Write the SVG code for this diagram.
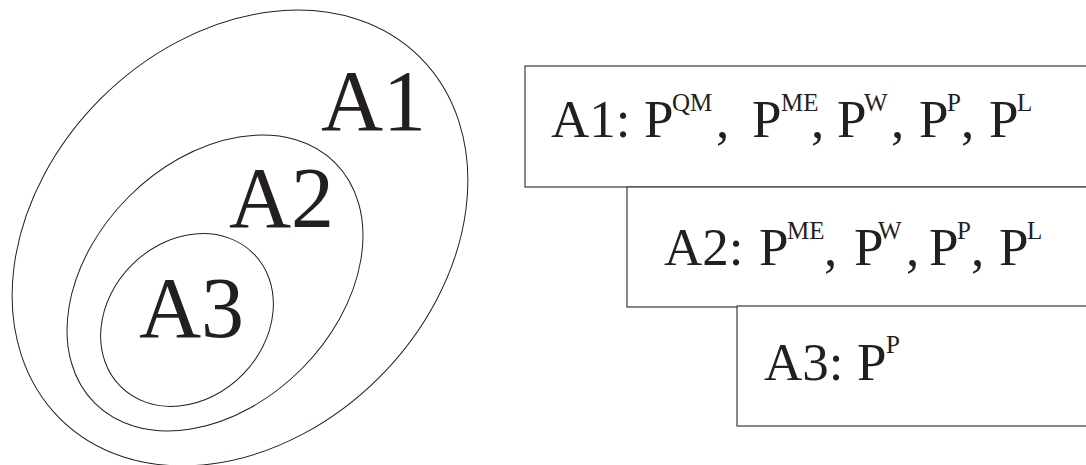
<svg xmlns="http://www.w3.org/2000/svg" width="1086" height="465" viewBox="0 0 1086 465">
<style>
.shape{fill:none;stroke:#231f20;stroke-width:1}
.box{fill:#fff;stroke:#3a3a3a;stroke-width:1.2}
.big{font-family:"Liberation Serif","Times New Roman",serif;font-size:86px;fill:#231f20}
.lbl{font-family:"Liberation Serif","Times New Roman",serif;font-size:53px;fill:#231f20}
.sup{font-size:25px}
</style>
<rect width="1086" height="465" fill="#fff"/>
<g id="set-A1">
<ellipse class="shape" cx="240" cy="238" rx="255" ry="197" transform="rotate(-45 240 238)"/>
<text class="big" x="321" y="130">A1</text>
</g>
<g id="set-A2">
<ellipse class="shape" cx="215" cy="283" rx="170" ry="122" transform="rotate(-45 215 283)"/>
<text class="big" x="229" y="227">A2</text>
</g>
<g id="set-A3">
<ellipse class="shape" cx="187" cy="320" rx="94" ry="78" transform="rotate(-45 187 320)"/>
<text class="big" x="139" y="337">A3</text>
</g>
<g id="box-A1">
<rect class="box" x="525" y="66" width="580" height="121"/>
<text class="lbl" y="137"><tspan x="551">A1:</tspan><tspan x="644">P</tspan><tspan class="sup" x="672" y="111">QM</tspan><tspan x="716" y="137">,</tspan><tspan x="752">P</tspan><tspan class="sup" x="781" y="111">ME</tspan><tspan x="811" y="137">,</tspan><tspan x="837">P</tspan><tspan class="sup" x="864" y="111">W</tspan><tspan x="891" y="137">,</tspan><tspan x="919">P</tspan><tspan class="sup" x="947" y="111">P</tspan><tspan x="961" y="137">,</tspan><tspan x="989">P</tspan><tspan class="sup" x="1017" y="111">L</tspan></text>
</g>
<g id="box-A2">
<rect class="box" x="627" y="187" width="480" height="120"/>
<text class="lbl" y="265"><tspan x="664">A2:</tspan><tspan x="759">P</tspan><tspan class="sup" x="787" y="239">ME</tspan><tspan x="824" y="265">,</tspan><tspan x="854">P</tspan><tspan class="sup" x="878" y="239">W</tspan><tspan x="906" y="265">,</tspan><tspan x="929">P</tspan><tspan class="sup" x="957" y="239">P</tspan><tspan x="971" y="265">,</tspan><tspan x="999">P</tspan><tspan class="sup" x="1027" y="239">L</tspan></text>
</g>
<g id="box-A3">
<rect class="box" x="737" y="306" width="370" height="120"/>
<text class="lbl" y="380"><tspan x="764">A3:</tspan><tspan x="857">P</tspan><tspan class="sup" x="886" y="353">P</tspan></text>
</g>
<g id="connectors"/>
</svg>
